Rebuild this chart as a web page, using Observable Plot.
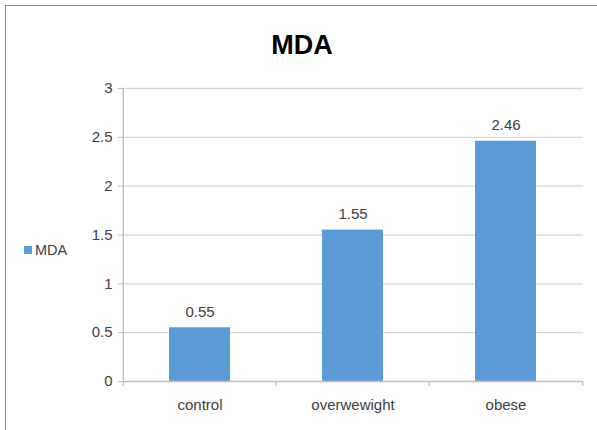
<!DOCTYPE html>
<html>
<head>
<meta charset="utf-8">
<script src="https://cdn.jsdelivr.net/npm/d3@7"></script>
<script src="https://cdn.jsdelivr.net/npm/@observablehq/plot@0.6"></script>
<style>
  html, body { margin: 0; padding: 0; background: #fff; }
  body { width: 597px; height: 430px; position: relative; overflow: hidden;
         font-family: "Liberation Sans", Arial, sans-serif; color: #404040; }
  #border { position: absolute; left: 5px; top: 5px; width: 700px; height: 500px;
            border-top: 1px solid #8c8c8c; border-left: 1px solid #8c8c8c; }
  #title { position: absolute; left: 0; width: 604px; top: 30px; text-align: center;
           font-size: 27px; font-weight: bold; color: #000; line-height: 30px; }
  #legend { position: absolute; left: 24px; top: 241px; font-size: 14.5px; line-height: 18px;
            display: flex; align-items: center; color: #404040; }
  #legend .sw { width: 8px; height: 8px; background: #5b9bd5; margin-right: 3px; }
  #chart { position: absolute; left: 0; top: 60px; }
</style>
</head>
<body>
<div id="border"></div>
<div id="title">MDA</div>
<div id="legend"><span class="sw"></span><span id="legendLabel"></span></div>
<div id="chart"></div>
<script>
const seriesName = "MDA";
const categories = ["control", "overwewight", "obese"];
const values = [0.55, 1.55, 2.46];
const yTicks = [0, 0.5, 1, 1.5, 2, 2.5, 3];

document.getElementById("legendLabel").textContent = seriesName;

const data = categories.map((c, i) => ({cat: c, val: values[i]}));

const W = 597, H = 370, mL = 123, mR = 14, mT = 28, mB = 49;
const step = (W - mL - mR) / categories.length;
const axisColor = "#bfbfbf";
const gridColor = "#d9d9d9";

const chart = Plot.plot({
  width: W, height: H,
  marginLeft: mL, marginRight: mR, marginTop: mT, marginBottom: mB,
  style: {fontFamily: '"Liberation Sans", Arial, sans-serif',
          fontSize: "15px", color: "#404040", background: "transparent", overflow: "visible"},
  x: {domain: categories, paddingInner: 0.6, paddingOuter: 0.3, axis: null, label: null},
  y: {domain: [0, 3], axis: null, label: null},
  marks: [
    Plot.ruleY(yTicks.filter(d => d > 0), {stroke: gridColor, strokeWidth: 1.3}),
    Plot.barY(data, {x: "cat", y: "val", fill: "#5b9bd5"}),
    Plot.text(data, {x: "cat", y: "val", text: d => d.val.toFixed(2), dy: -16, fill: "#404040"}),
    Plot.ruleY([0], {stroke: axisColor, strokeWidth: 1.3}),
    // y axis line
    Plot.ruleX([categories[0]], {dx: -step / 2, y1: 0, y2: 3, stroke: axisColor, strokeWidth: 1.3}),
    // category boundary ticks
    Plot.ruleX(categories, {dx: -step / 2, y1: 0, y2: 0, insetBottom: -5, stroke: axisColor, strokeWidth: 1.3}),
    Plot.ruleX([categories[categories.length - 1]], {dx: step / 2, y1: 0, y2: 0, insetBottom: -5, stroke: axisColor, strokeWidth: 1.3}),
    Plot.axisY({ticks: yTicks, tickFormat: d => String(d), tickSize: 5, tickPadding: 6, stroke: axisColor, fill: "#404040", label: null}),
    Plot.axisX({tickSize: 0, tickPadding: 18, fill: "#404040", label: null})
  ]
});
document.getElementById("chart").appendChild(chart);
</script>
</body>
</html>
